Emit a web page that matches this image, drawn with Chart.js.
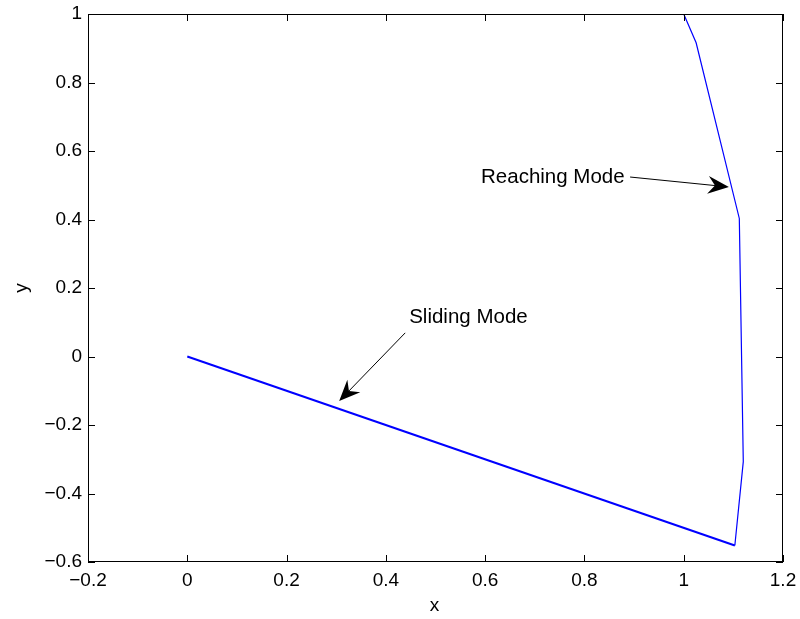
<!DOCTYPE html>
<html lang="en">
<head>
  <meta charset="UTF-8">
  <title>Reaching and Sliding Mode</title>
  <script src="https://cdn.jsdelivr.net/npm/chart.js"></script>
  <style>
    * { margin: 0; padding: 0; box-sizing: border-box; }
    body { background: #ffffff; }
    #wrap { width: 800px; height: 619px; }
  </style>
</head>
<body>
  <div id="wrap"><canvas id="phase" width="800" height="619"></canvas></div>

  <script>
    // trajectory
    const reachX = [1.0, 1.025, 1.112, 1.12, 1.103];
    const reachY = [1.0, 0.916, 0.403, -0.307, -0.552];
    const slideX = [1.103, 0.0];
    const slideY = [-0.552, 0.0];

    // annotation text + arrow (tail -> tip), in data units
    const noteText = ['Reaching Mode', 'Sliding Mode'];
    const noteTail = [[0.892, 0.524], [0.439, 0.069]];
    const noteTip = [[1.091, 0.495], [0.306, -0.130]];
    const noteAt = [[0.881, 0.524], [0.447, 0.115]];
    const noteAlign = ['right', 'left'];

    const FONT = '"Liberation Sans", Arial, Helvetica, sans-serif';

    const pts = (xs, ys) => xs.map((x, i) => ({ x: x, y: ys[i] }));
    const fmt = v => String(Math.round(v * 10) / 10).replace('-', '\u2212');

    function arrow(ctx, x0, y0, x1, y1) {
      const ang = Math.atan2(y1 - y0, x1 - x0);
      const len = 21, half = 9, notch = 14;
      const c = Math.cos(ang), s = Math.sin(ang);
      ctx.beginPath();
      ctx.moveTo(x0, y0);
      ctx.lineTo(x1 - c * notch, y1 - s * notch);
      ctx.stroke();
      const bx = x1 - c * len, by = y1 - s * len;
      ctx.beginPath();
      ctx.moveTo(x1, y1);
      ctx.lineTo(bx - s * half, by + c * half);
      ctx.lineTo(x1 - c * notch, y1 - s * notch);
      ctx.lineTo(bx + s * half, by - c * half);
      ctx.closePath();
      ctx.fill();
    }

    const matlabFrame = {
      id: 'matlabFrame',
      afterDraw(chart) {
        const ctx = chart.ctx;
        const a = chart.chartArea;
        const sx = chart.scales.x, sy = chart.scales.y;
        ctx.save();
        ctx.strokeStyle = '#000';
        ctx.fillStyle = '#000';
        ctx.lineWidth = 1;
        // box
        ctx.strokeRect(a.left + 0.5, a.top + 0.5, a.right - a.left - 1, a.bottom - a.top - 1);
        // inward ticks
        const tk = 7;
        ctx.beginPath();
        sx.ticks.forEach(t => {
          const px = Math.round(sx.getPixelForValue(t.value)) + 0.5;
          ctx.moveTo(px, a.bottom); ctx.lineTo(px, a.bottom - tk);
          ctx.moveTo(px, a.top); ctx.lineTo(px, a.top + tk);
        });
        sy.ticks.forEach(t => {
          const py = Math.round(sy.getPixelForValue(t.value)) + 0.5;
          ctx.moveTo(a.left, py); ctx.lineTo(a.left + tk, py);
          ctx.moveTo(a.right, py); ctx.lineTo(a.right - tk, py);
        });
        ctx.stroke();

        // axis labels
        ctx.font = '19px ' + FONT;
        ctx.textAlign = 'center';
        ctx.textBaseline = 'middle';
        ctx.fillText('x', (a.left + a.right) / 2 - 1, 606);
        ctx.save();
        ctx.translate(22, (a.top + a.bottom) / 2);
        ctx.rotate(-Math.PI / 2);
        ctx.fillText('y', 0, 0);
        ctx.restore();

        // annotations
        ctx.font = '20.5px ' + FONT;
        noteText.forEach((txt, i) => {
          ctx.textAlign = noteAlign[i];
          ctx.fillText(txt, sx.getPixelForValue(noteAt[i][0]), sy.getPixelForValue(noteAt[i][1]));
          arrow(ctx,
            sx.getPixelForValue(noteTail[i][0]), sy.getPixelForValue(noteTail[i][1]),
            sx.getPixelForValue(noteTip[i][0]), sy.getPixelForValue(noteTip[i][1]));
        });
        ctx.restore();
      }
    };

    new Chart(document.getElementById('phase'), {
      type: 'scatter',
      data: {
        datasets: [
          { data: pts(reachX, reachY), showLine: true, borderColor: '#0000ff', borderWidth: 1.2, pointRadius: 0, fill: false },
          { data: pts(slideX, slideY), showLine: true, borderColor: '#0000ff', borderWidth: 2, pointRadius: 0, fill: false }
        ]
      },
      options: {
        responsive: false,
        animation: false,
        layout: { padding: { top: 14, right: 17, left: 0, bottom: 0 } },
        plugins: { legend: { display: false }, tooltip: { enabled: false } },
        scales: {
          x: {
            type: 'linear', min: -0.2, max: 1.2,
            afterFit: s => { s.height = 57; s.paddingLeft = 0; s.paddingRight = 0; },
            grid: { display: false, drawTicks: false },
            border: { display: false },
            ticks: { stepSize: 0.2, padding: 7, color: '#000', font: { family: FONT, size: 19 }, maxRotation: 0, callback: fmt }
          },
          y: {
            type: 'linear', min: -0.6, max: 1,
            afterFit: s => { s.width = 88; s.paddingTop = 0; s.paddingBottom = 0; },
            grid: { display: false, drawTicks: false },
            border: { display: false },
            ticks: { stepSize: 0.2, padding: 6, color: '#000', font: { family: FONT, size: 19 }, callback: fmt }
          }
        }
      },
      plugins: [matlabFrame]
    });
  </script>
</body>
</html>
